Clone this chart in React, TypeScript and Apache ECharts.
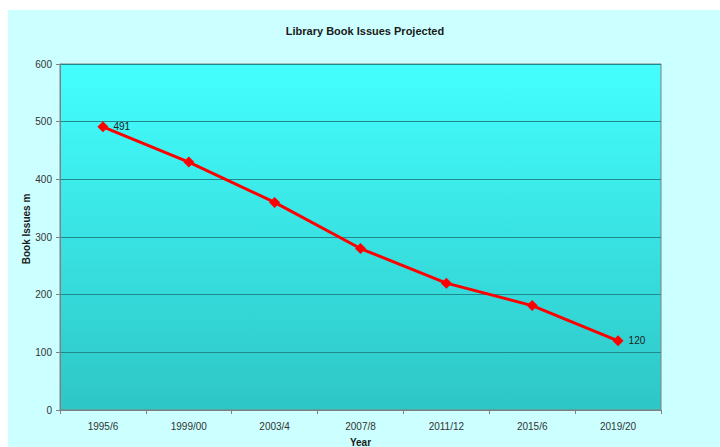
import React, { useEffect, useRef } from "react";
import * as echarts from "echarts";

const categories = ["1995/6", "1999/00", "2003/4", "2007/8", "2011/12", "2015/6", "2019/20"];
const issues = [491, 430, 360, 280, 220, 181, 120];
const labelledIndexes = [0, 6];
const yAxisTitle = "Book Issues m";

export default function App() {
  const ref = useRef<HTMLDivElement>(null);
  useEffect(() => {
    const chart = echarts.init(ref.current!, null, { renderer: "svg" });
    chart.setOption({
      animation: false,
      graphic: [
        {
          type: "rect",
          z: -10,
          silent: true,
          shape: { x: 8, y: 10, width: 712, height: 437 },
          style: { fill: "#CCFFFF" },
        },
        {
          type: "text",
          x: 26,
          y: 229,
          rotation: Math.PI / 2,
          silent: true,
          style: {
            text: yAxisTitle,
            fontFamily: "Liberation Sans",
            fontSize: 10,
            fontWeight: "bold",
            fill: "#1a1a1a",
            align: "center",
            verticalAlign: "middle",
          },
        },
      ],
      title: {
        text: "Library Book Issues Projected",
        left: 360,
        textAlign: "center",
        top: 20,
        textStyle: { fontFamily: "Liberation Sans", fontSize: 11, fontWeight: "bold", color: "#1a1a1a" },
      },
      grid: {
        left: 60,
        top: 64,
        width: 601,
        height: 346,
        containLabel: false,
        outerBoundsMode: "none",
        show: true,
        borderColor: "#808080",
        borderWidth: 1,
        backgroundColor: {
          type: "linear",
          x: 0,
          y: 0,
          x2: 0,
          y2: 1,
          colorStops: [
            { offset: 0, color: "#44FFFF" },
            { offset: 1, color: "#2EC6C6" },
          ],
        },
      },
      xAxis: {
        type: "category",
        data: categories,
        boundaryGap: true,
        name: "Year",
        nameLocation: "middle",
        nameGap: 27,
        nameMoveOverlap: false,
        nameTextStyle: { fontFamily: "Liberation Sans", fontSize: 10, fontWeight: "bold", color: "#1a1a1a" },
        axisLine: { lineStyle: { color: "#808080", width: 1 } },
        axisTick: { show: true, alignWithLabel: false, length: 4, lineStyle: { color: "#808080" } },
        axisLabel: { fontFamily: "Liberation Sans", fontSize: 10, color: "#333", margin: 11 },
      },
      yAxis: {
        type: "value",
        min: 0,
        max: 600,
        interval: 100,
        axisLine: { show: true, lineStyle: { color: "#808080", width: 1 } },
        axisTick: { show: true, length: 4, lineStyle: { color: "#808080" } },
        axisLabel: { fontFamily: "Liberation Sans", fontSize: 10, color: "#333", margin: 8 },
        splitLine: { show: true, lineStyle: { color: "#1E8A8A", width: 1 } },
      },
      series: [
        {
          type: "line",
          data: issues.map((v, i) => ({
            value: v,
            label: {
              show: labelledIndexes.includes(i),
              position: "right",
              distance: 5,
              formatter: "{c}",
              fontFamily: "Liberation Sans",
              fontSize: 10,
              color: "#222",
            },
          })),
          symbol: "diamond",
          symbolSize: 11,
          lineStyle: { color: "#FF0000", width: 3 },
          itemStyle: { color: "#FF0000" },
        },
      ],
    });
    return () => chart.dispose();
  }, []);
  return (
    <div
      ref={ref}
      style={{ position: "absolute", left: 0, top: 0, width: 720, height: 447 }}
    />
  );
}
